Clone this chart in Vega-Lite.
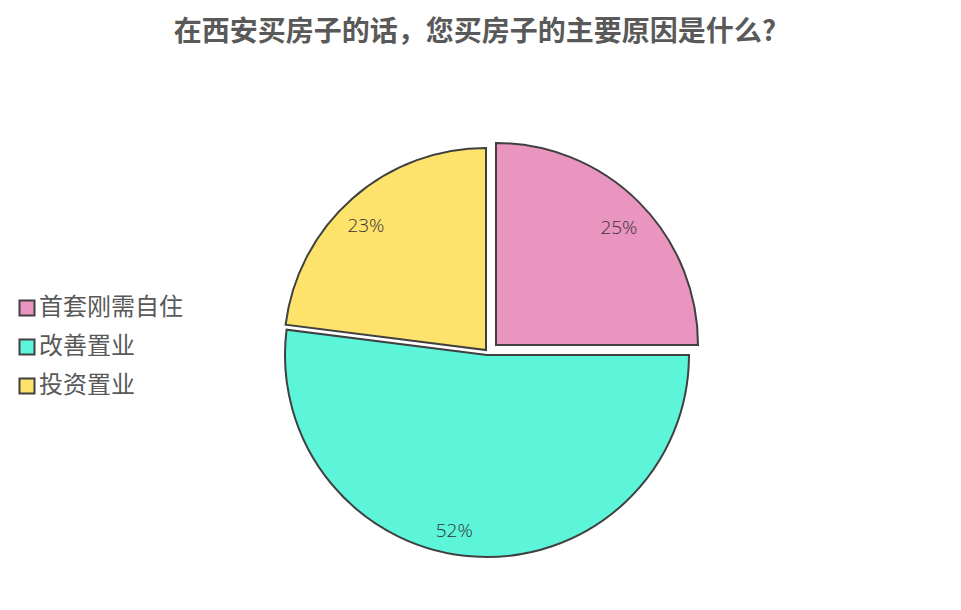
{
  "$schema": "https://vega.github.io/schema/vega-lite/v6.json",
  "width": 946,
  "height": 520,
  "padding": {"left": 15, "top": 19, "right": 0, "bottom": 0},
  "background": "white",
  "title": {
    "text": "在西安买房子的话，您买房子的主要原因是什么?",
    "font": "Noto Sans CJK SC",
    "fontSize": 28,
    "fontWeight": "bold",
    "color": "#595959",
    "anchor": "middle",
    "dx": -13,
    "offset": 43
  },
  "data": {
    "values": [
      {"cat": "首套刚需自住", "pct": 25, "label": "25%", "order": 1},
      {"cat": "改善置业", "pct": 52, "label": "52%", "order": 2},
      {"cat": "投资置业", "pct": 23, "label": "23%", "order": 3}
    ]
  },
  "encoding": {
    "theta": {"field": "pct", "type": "quantitative", "stack": true, "scale": {"domain": [0, 100]}},
    "order": {"field": "order", "type": "quantitative"}
  },
  "layer": [
    {
      "mark": {"type": "arc", "radius": 202, "xOffset": 8, "yOffset": -5, "stroke": "#404040", "strokeWidth": 2},
      "encoding": {
        "color": {"field": "cat", "type": "nominal", "scale": {"domain": ["首套刚需自住", "改善置业", "投资置业"], "range": ["#EA94C0", "#5CF5D9", "#FDE26C"]}, "legend": {"title": null}},
        "opacity": {"condition": {"test": "datum.cat === '首套刚需自住'", "value": 1}, "value": 0}
      }
    },
    {
      "mark": {"type": "arc", "radius": 202, "xOffset": -1, "yOffset": 5, "stroke": "#404040", "strokeWidth": 2},
      "encoding": {
        "color": {"field": "cat", "type": "nominal"},
        "opacity": {"condition": {"test": "datum.cat === '改善置业'", "value": 1}, "value": 0}
      }
    },
    {
      "mark": {"type": "arc", "radius": 202, "xOffset": -2, "yOffset": 0, "stroke": "#404040", "strokeWidth": 2},
      "encoding": {
        "color": {"field": "cat", "type": "nominal"},
        "opacity": {"condition": {"test": "datum.cat === '投资置业'", "value": 1}, "value": 0}
      }
    },
    {
      "mark": {"type": "text", "radius": 171, "xOffset": 10, "yOffset": -1, "font": "Open Sans", "fontWeight": 300, "fontSize": 19, "color": "#333333"},
      "encoding": {
        "text": {"condition": {"test": "datum.cat === '首套刚需自住'", "field": "label"}, "value": ""}
      }
    },
    {
      "mark": {"type": "text", "radius": 171, "xOffset": -1, "yOffset": 10, "dx": -22, "font": "Open Sans", "fontWeight": 300, "fontSize": 19, "color": "#333333"},
      "encoding": {
        "text": {"condition": {"test": "datum.cat === '改善置业'", "field": "label"}, "value": ""}
      }
    },
    {
      "mark": {"type": "text", "radius": 171, "xOffset": -9, "yOffset": 4, "font": "Open Sans", "fontWeight": 300, "fontSize": 19, "color": "#333333"},
      "encoding": {
        "text": {"condition": {"test": "datum.cat === '投资置业'", "field": "label"}, "value": ""}
      }
    }
  ],
  "config": {
    "view": {"stroke": null},
    "legend": {
      "orient": "none",
      "legendX": 0,
      "legendY": 206,
      "padding": 0,
      "symbolType": "square",
      "symbolSize": 225,
      "symbolStrokeColor": "#404040",
      "symbolStrokeWidth": 2,
      "symbolOpacity": 1,
      "labelFont": "Noto Sans CJK SC",
      "labelFontSize": 24,
      "labelColor": "#595959",
      "labelOffset": 0,
      "rowPadding": 15,
      "labelLimit": 300
    }
  }
}
